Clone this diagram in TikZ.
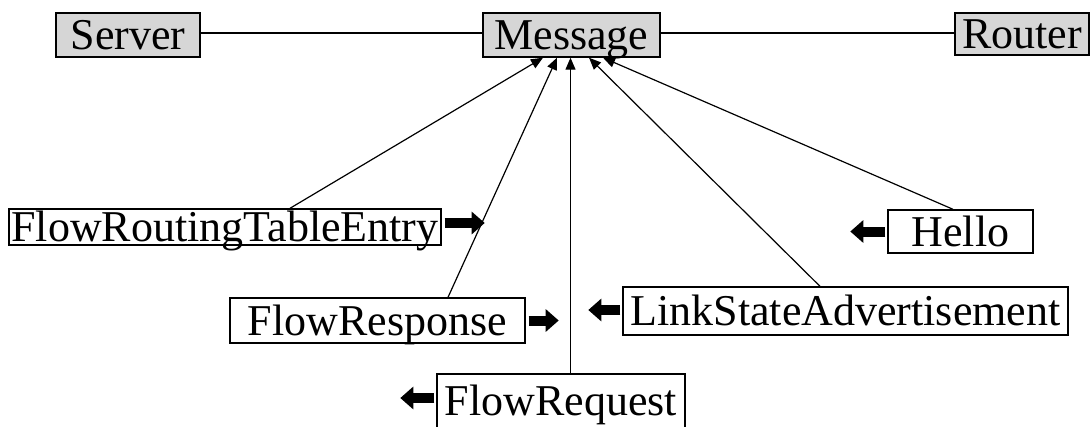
\documentclass[tikz,border=0pt]{standalone}
\usepackage{fontspec}
\setmainfont{Liberation Serif}
\usetikzlibrary{arrows.meta}
\tikzset{
  box/.style={draw=black, line width=1.4pt, inner sep=0pt, font=\fontsize{44}{45}\selectfont,
              text height=29pt, text depth=0pt, anchor=center},
  topbox/.style={box, fill=black!16},
  conn/.style={draw=black, line width=1.2pt},
  inh/.style={conn, -{Triangle[length=12pt,width=10pt]}},
  blockarrow/.style={draw=black, line width=10pt, -{Triangle[length=13pt,width=22pt]}}
}
\begin{document}
\begin{tikzpicture}[x=1pt,y=-1pt]
\useasboundingbox (0,0) rectangle (1090,426);
% top row
\node[topbox, minimum width=144pt, minimum height=44pt] (srv) at (128,35) {Server};
\node[topbox, minimum width=177pt, minimum height=44pt] (msg) at (571.5,35) {Message};
\node[topbox, minimum width=134pt, minimum height=42pt] (rtr) at (1022,34) {Router};
\draw[conn] ([yshift=2pt]srv.east) -- ([yshift=2pt]msg.west);
\draw[conn] ([yshift=2pt]msg.east) -- ([yshift=1pt]rtr.west);
% subclasses
\node[box, minimum width=432pt, minimum height=36pt] (fre) at (225,227) {FlowRoutingTableEntry};
\node[box, minimum width=295pt, minimum height=45pt] (resp) at (377.5,320.5) {FlowResponse};
\node[box, minimum width=248pt, minimum height=54pt] (req) at (561,401) {FlowRequest};
\node[box, minimum width=445pt, minimum height=48pt] (lsa) at (845.5,311) {LinkStateAdvertisement};
\node[box, minimum width=145pt, minimum height=43pt] (hello) at (960.5,231.5) {Hello};
% inheritance connectors
\draw[inh] ([xshift=65pt]fre.north) -- ([xshift=-28.5pt]msg.south);
\draw[inh] ([xshift=70.5pt]resp.north) -- ([xshift=-14.5pt]msg.south);
\draw[inh] ([xshift=9.5pt]req.north) -- ([xshift=-1pt]msg.south);
\draw[inh] ([xshift=-25.5pt]lsa.north) -- ([xshift=17.5pt]msg.south);
\draw[inh] ([xshift=-7.5pt]hello.north) -- ([xshift=31.5pt]msg.south);
% block arrows
\draw[blockarrow] ([shift={(3,-4)}]fre.east) -- ++(40,0);
\draw[blockarrow] ([shift={(3,0)}]resp.east) -- ++(30,0);
\draw[blockarrow] ([shift={(-2,-3)}]req.west) -- ++(-34,0);
\draw[blockarrow] ([shift={(-2,-1)}]lsa.west) -- ++(-32,0);
\draw[blockarrow] ([shift={(-2,0)}]hello.west) -- ++(-35,0);
\end{tikzpicture}
\end{document}
